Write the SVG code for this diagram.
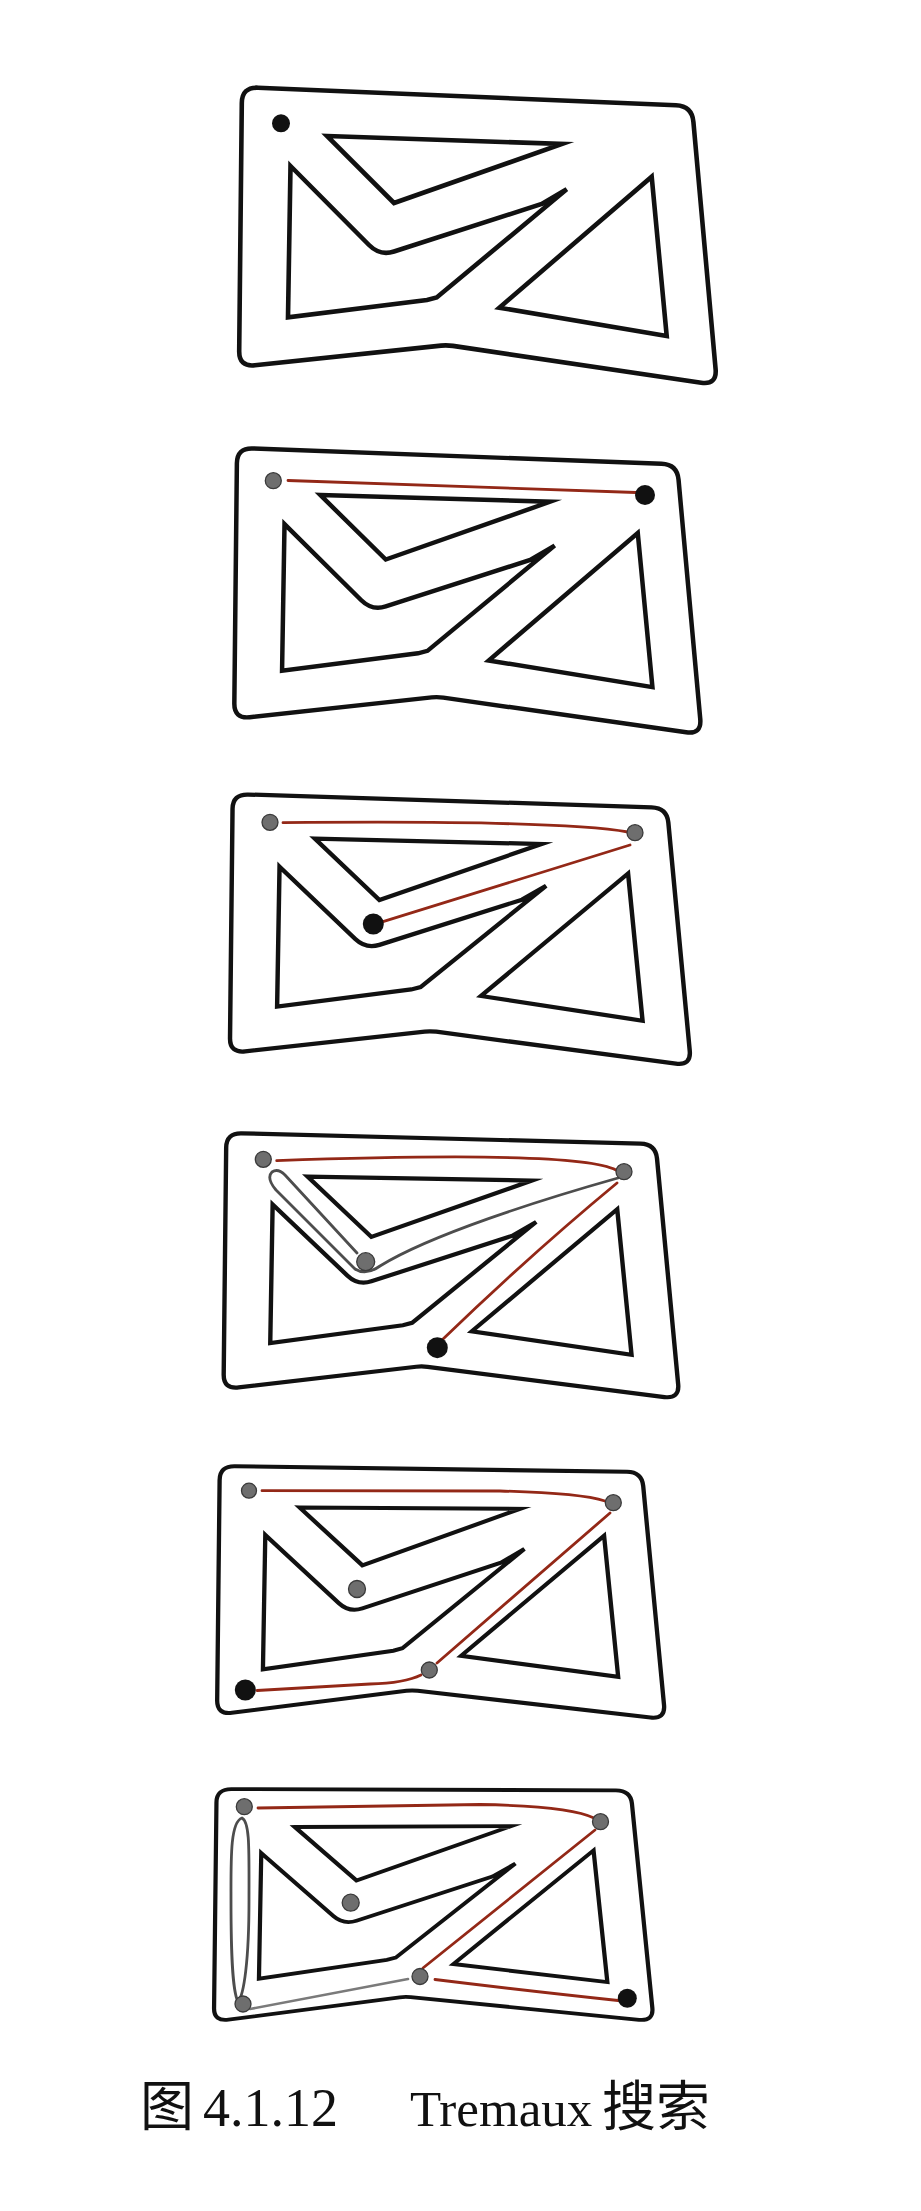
<svg xmlns="http://www.w3.org/2000/svg" xmlns:xlink="http://www.w3.org/1999/xlink" width="921" height="2211" viewBox="0 0 921 2211">
<style>
.wall{fill:none;stroke:#111;stroke-width:4.6;stroke-linejoin:miter;stroke-miterlimit:6}
.red{fill:none;stroke:#932817;stroke-width:2.8;stroke-linecap:round}
.gline{fill:none;stroke:#4d4d4d;stroke-width:2.8;stroke-linecap:round;stroke-linejoin:round}
.gline2{fill:none;stroke:#7a7a7a;stroke-width:2.6;stroke-linecap:round}
.gdot{fill:#6e6e6e;stroke:#3a3a3a;stroke-width:1.3}
.bdot{fill:#111}
.cap{font-family:"Liberation Serif","Noto Sans CJK SC",serif;font-size:54px;fill:#111}
</style>
<defs>
<g id="maze">
<path class="wall" d="M 258,87.7 L 676,105.3 Q 692,106 693.4,121.9 L 715.6,369.1 Q 717,385 701.2,382.7 L 452.9,345.9 Q 447,345 441,345.6 L 254.9,365.3 Q 239,367 239.2,351 L 241.8,103 Q 242,87 258,87.7 Z"/>
<path class="wall" d="M 327,136 L 562,144 L 394,203 Z"/>
<path class="wall" d="M 290.5,166 L 369,245 Q 380,256 394,251.5 L 541.7,204 L 566.7,189.3 L 436.7,297.5 L 427,300 L 288,317.3 Z"/>
<path class="wall" d="M 651.7,176.7 L 666.7,336 L 499.3,307.7 Z"/>
</g>
</defs>
<rect width="921" height="2211" fill="#fff"/>

<g id="panel-1">
<use xlink:href="#maze"/>
<circle class="bdot" cx="281" cy="123.3" r="9"/>
</g>

<g id="panel-2">
<use xlink:href="#maze" transform="matrix(0.978,-0.004,0,0.968,0.4,364.6)"/>
<g class="connectors">
<path class="red" d="M 288,480.5 L 636,492.5"/>
</g>
<circle class="gdot" cx="273.3" cy="480.7" r="8"/>
<circle class="bdot" cx="645" cy="495" r="10"/>
</g>

<g id="panel-3">
<use xlink:href="#maze" transform="matrix(0.965,-0.0085,0,0.925,-0.8,715.6)"/>
<g class="connectors">
<path class="red" d="M 283,822.7 Q 560,820 628,832"/>
<path class="red" d="M 630,845 L 383,921.7"/>
</g>
<circle class="gdot" cx="270" cy="822.3" r="8"/>
<circle class="gdot" cx="635" cy="832.7" r="8"/>
<circle class="bdot" cx="373.3" cy="924" r="10.5"/>
</g>

<g id="panel-4">
<use xlink:href="#maze" transform="matrix(0.954,-0.014,0,0.915,-4.5,1056.7)"/>
<g class="connectors">
<path class="red" d="M 276.7,1160.7 Q 580,1150 616,1170"/>
<path class="gline" d="M 618,1178 C 540,1200 430,1235 380,1266 Q 366,1276 355,1269 L 276,1190 Q 266,1178 272,1172 Q 278,1168 285,1175 L 357,1253"/>
<path class="red" d="M 617,1183 Q 530,1255 442,1340"/>
</g>
<circle class="gdot" cx="263.3" cy="1159.3" r="8"/>
<circle class="gdot" cx="624" cy="1171.7" r="8"/>
<circle class="gdot" cx="365.7" cy="1261.7" r="9"/>
<circle class="bdot" cx="437.3" cy="1347.7" r="10.5"/>
</g>

<g id="panel-5">
<use xlink:href="#maze" transform="matrix(0.938,-0.024,0,0.888,-7.2,1394.5)"/>
<g class="connectors">
<path class="red" d="M 262,1490.7 L 500,1491 Q 580,1493 605,1501"/>
<path class="red" d="M 610,1513 L 437,1663"/>
<path class="red" d="M 421,1675 Q 405,1683 370,1684 L 257,1690.5"/>
</g>
<circle class="gdot" cx="249" cy="1490.7" r="7.5"/>
<circle class="gdot" cx="613.3" cy="1502.7" r="8"/>
<circle class="gdot" cx="429.3" cy="1670" r="8"/>
<circle class="gdot" cx="357" cy="1589" r="8.5"/>
<circle class="bdot" cx="245.3" cy="1690" r="10.5"/>
</g>

<g id="panel-6">
<use xlink:href="#maze" transform="matrix(0.92,-0.032,0,0.83,-6,1724.6)"/>
<g class="connectors">
<path class="red" d="M 258,1808 L 480,1804.5 Q 570,1806 594,1818"/>
<path class="red" d="M 595,1830 L 423,1968"/>
<path class="red" d="M 435,1979.5 Q 520,1990 618,2000.5"/>
<path class="gline2" d="M 408,1979 L 250,2009"/>
<path class="gline" d="M 242,1818 C 230,1822 231,1860 231,1900 C 231,1950 232,1990 238,2002 C 244,1995 249,1960 249,1900 C 249,1850 250,1822 242,1818 Z"/>
</g>
<circle class="gdot" cx="244.3" cy="1806.7" r="8"/>
<circle class="gdot" cx="600.5" cy="1821.7" r="8"/>
<circle class="gdot" cx="420" cy="1976.5" r="8"/>
<circle class="gdot" cx="243" cy="2004" r="8"/>
<circle class="gdot" cx="350.7" cy="1902.7" r="8.5"/>
<circle class="bdot" cx="627.3" cy="1998.3" r="9.5"/>
</g>

<g id="caption">
<text class="cap" y="2126"><tspan x="140">图</tspan><tspan x="203">4.1.12</tspan><tspan x="410" font-size="51">Tremaux</tspan><tspan x="602">搜索</tspan></text>
</g>
</svg>
